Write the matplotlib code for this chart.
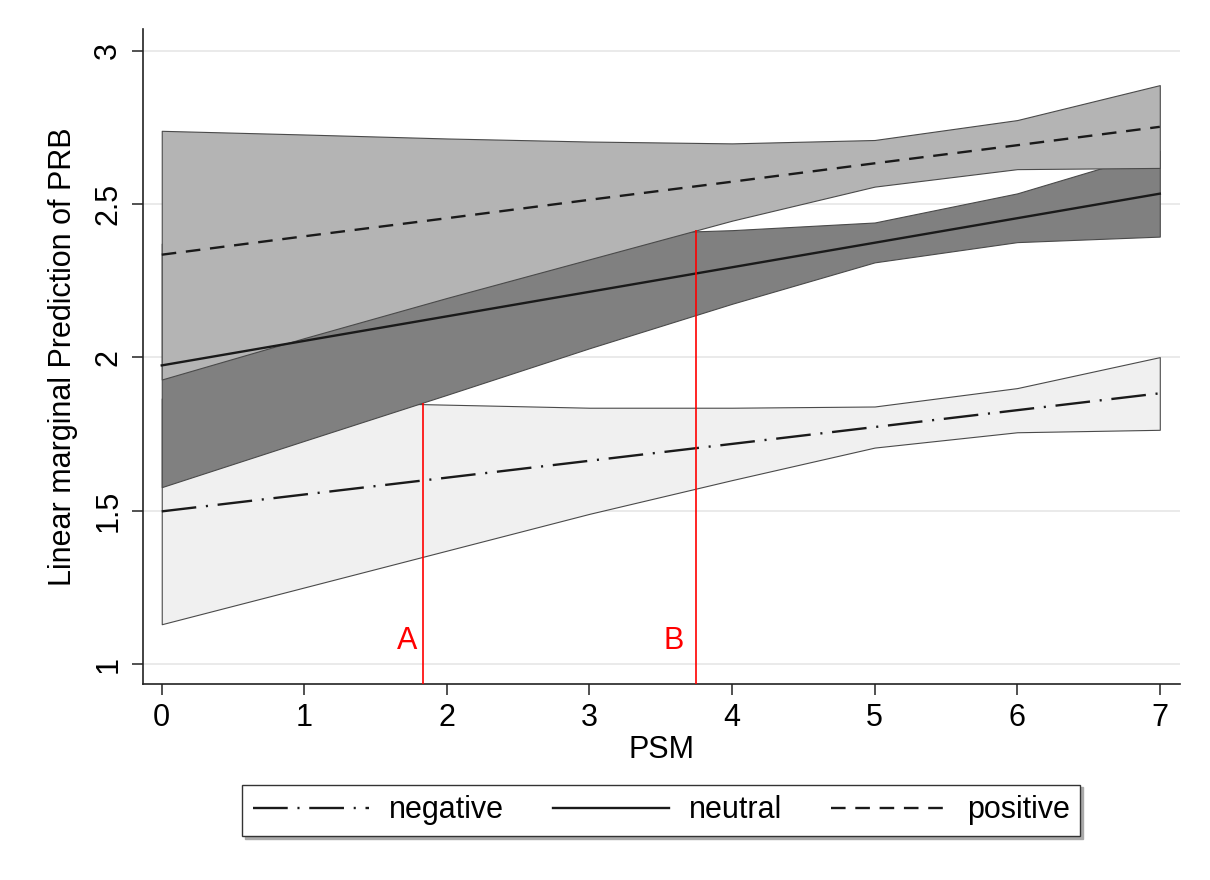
import numpy as np
import matplotlib
matplotlib.use("Agg")
import matplotlib.pyplot as plt

plt.rcParams['font.family'] = ['Liberation Sans', 'DejaVu Sans']
plt.rcParams['lines.scale_dashes'] = False

# ------------------------------------------------------------
# Données (marges prédites + IC 95 %)
# ------------------------------------------------------------
psm = [0, 1, 2, 3, 4, 5, 6, 7]

neg_fit = [1.498, 1.553, 1.608, 1.663, 1.718, 1.773, 1.828, 1.883]
neg_lo = [1.130, 1.250, 1.370, 1.490, 1.600, 1.706, 1.756, 1.764]
neg_hi = [1.866, 1.856, 1.846, 1.836, 1.836, 1.840, 1.900, 2.001]

neu_fit = [1.974, 2.054, 2.134, 2.214, 2.294, 2.374, 2.454, 2.534]
neu_lo = [1.577, 1.728, 1.878, 2.030, 2.175, 2.310, 2.376, 2.394]
neu_hi = [2.371, 2.380, 2.390, 2.400, 2.415, 2.440, 2.535, 2.674]

pos_fit = [2.335, 2.395, 2.454, 2.514, 2.573, 2.633, 2.692, 2.752]
pos_lo = [1.928, 2.063, 2.194, 2.320, 2.446, 2.557, 2.614, 2.618]
pos_hi = [2.739, 2.727, 2.714, 2.704, 2.698, 2.709, 2.774, 2.888]

# points de croisement marqués A et B
cut_a = 1.83
cut_b = 3.75

x_ticks = [0, 1, 2, 3, 4, 5, 6, 7]
y_ticks = [1, 1.5, 2, 2.5, 3]
y_tick_labels = ["1", "1.5", "2", "2.5", "3"]

# ------------------------------------------------------------
# Figure
# ------------------------------------------------------------
fs = 22

fig = plt.figure(figsize=(12.1, 8.8), dpi=100)
ax = fig.add_axes([0.118, 0.2227, 0.857, 0.744])

edge = '#4a4a4a'
ax.fill_between(psm, neg_lo, neg_hi, facecolor='#f0f0f0', edgecolor=edge,
                linewidth=0.8, zorder=1)
ax.fill_between(psm, neu_lo, neu_hi, facecolor='#808080', edgecolor=edge,
                linewidth=0.8, zorder=2)
ax.fill_between(psm, pos_lo, pos_hi, facecolor='#b4b4b4', edgecolor=edge,
                linewidth=0.8, zorder=3)

l_neg, = ax.plot(psm, neg_fit, color='#1a1a1a', lw=1.7, zorder=4,
                 dashes=(25, 7, 1.5, 7), label='negative')
l_neu, = ax.plot(psm, neu_fit, color='#1a1a1a', lw=1.7, zorder=4,
                 label='neutral')
l_pos, = ax.plot(psm, pos_fit, color='#1a1a1a', lw=1.7, zorder=4,
                 dashes=(10.5, 7), label='positive')

ax.set_xlim(-0.133, 7.14)
ax.set_ylim(0.935, 3.07)

# lignes rouges jusqu'aux bords des intervalles
top_a = np.interp(cut_a, psm, neu_lo)
top_b = np.interp(cut_b, psm, pos_lo)
ax.vlines([cut_a, cut_b], 0.935, [top_a, top_b], colors='red', lw=1.2, zorder=5)
ax.text(cut_a - 0.04, 1.025, "A", color='red', fontsize=fs, ha='right', va='bottom')
ax.text(cut_b - 0.09, 1.025, "B", color='red', fontsize=fs, ha='right', va='bottom')

ax.set_xticks(x_ticks)
ax.set_yticks(y_ticks)
ax.set_yticklabels(y_tick_labels, rotation=90, va='center')
ax.tick_params(axis='both', labelsize=fs, length=8, width=1.2, color='#333333',
               pad=6)
ax.grid(axis='y', color='#e6e6e6', lw=1.2, zorder=0)
ax.set_axisbelow(True)

for side in ['top', 'right']:
    ax.spines[side].set_visible(False)
for side in ['left', 'bottom']:
    ax.spines[side].set_linewidth(1.2)
    ax.spines[side].set_color('#222222')

ax.set_xlabel("PSM", fontsize=fs, labelpad=1)
ax.set_ylabel("Linear marginal Prediction of PRB", fontsize=fs, labelpad=11)

leg = ax.legend(handles=[l_neg, l_neu, l_pos], loc='center',
                bbox_to_anchor=(0.5, -0.193), ncol=3, fontsize=fs,
                frameon=True, fancybox=False, edgecolor='#333333',
                handlelength=3.8, handletextpad=0.65, columnspacing=1.6,
                borderpad=0.35, borderaxespad=0,
                shadow={'color': '#aaaaaa', 'alpha': 1, 'ox': 2, 'oy': -2})
leg.get_frame().set_linewidth(1.0)

fig.savefig("out.png", dpi=100)
